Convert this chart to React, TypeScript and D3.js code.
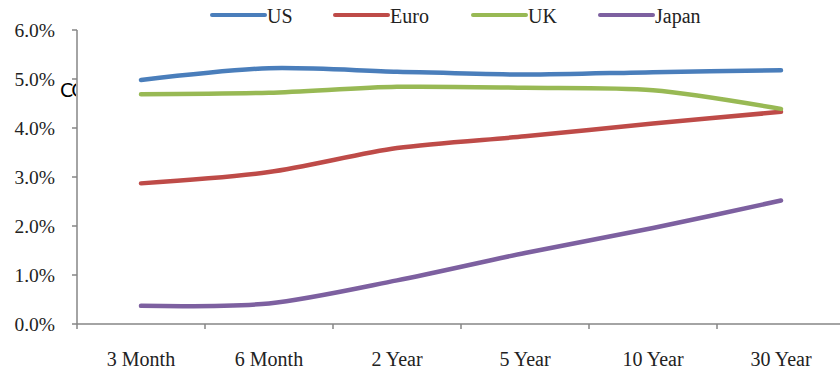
import React from "react";
import * as d3 from "d3";

// Government bond yield curves by maturity (percent)
const maturities = ["3 Month", "6 Month", "2 Year", "5 Year", "10 Year", "30 Year"];
const seriesNames = ["US", "Euro", "UK", "Japan"];
const usYields = [4.98, 5.22, 5.15, 5.09, 5.14, 5.18];
const euroYields = [2.87, 3.1, 3.59, 3.83, 4.09, 4.33];
const ukYields = [4.69, 4.72, 4.84, 4.82, 4.77, 4.39];
const japanYields = [0.37, 0.42, 0.89, 1.45, 1.96, 2.52];
const yTicks = [0, 1, 2, 3, 4, 5, 6];

const seriesValues = [usYields, euroYields, ukYields, japanYields];
const seriesColors = ["#4a7ebb", "#be4b48", "#98b954", "#7d60a0"];

const W = 840;
const H = 370;
const left = 77;
const top = 30;
const bottom = 324;
const right = 845;

const serif = "'Liberation Serif', 'Times New Roman', serif";

export default function App() {
  const x = d3.scaleBand<string>().domain(maturities).range([left, right]);
  const y = d3.scaleLinear().domain([0, 6]).range([bottom, top]);
  const cx = (m: string) => (x(m) as number) + x.bandwidth() / 2;

  const line = d3
    .line<number>()
    .x((_, i) => cx(maturities[i]))
    .y((v) => y(v))
    .curve(d3.curveCardinal.tension(0.15));

  const boundaries = d3.range(maturities.length + 1).map((i) => left + i * x.bandwidth());
  const axisColor = "#868686";

  const legendX = [212, 335, 473, 600];

  return (
    <svg
      width={W}
      height={H}
      style={{ position: "absolute", left: 0, top: 0, background: "#fff" }}
      fontFamily={serif}
    >
      <defs>
        <clipPath id="leftOfAxis">
          <rect x={0} y={0} width={76} height={H} />
        </clipPath>
      </defs>

      {/* stray title text partially hidden behind the plot */}
      <text
        x={60}
        y={97}
        fontFamily="'DejaVu Sans', sans-serif"
        fontSize={19}
        letterSpacing={-2}
        fill="#000"
        clipPath="url(#leftOfAxis)"
      >
        CO
      </text>

      {/* y axis */}
      <line x1={left} x2={left} y1={top} y2={bottom} stroke={axisColor} strokeWidth={1.5} />
      {yTicks.map((t) => (
        <g key={t}>
          <line x1={left - 5} x2={left} y1={y(t)} y2={y(t)} stroke={axisColor} strokeWidth={1.5} />
          <text x={55} y={y(t) + 6.5} textAnchor="end" fontSize={19.5} fill="#222">
            {d3.format(".1f")(t) + "%"}
          </text>
        </g>
      ))}

      {/* x axis */}
      <line x1={left} x2={right} y1={bottom} y2={bottom} stroke={axisColor} strokeWidth={1.5} />
      {boundaries.map((bx, i) => (
        <line key={i} x1={bx} x2={bx} y1={bottom} y2={bottom + 5} stroke={axisColor} strokeWidth={1.5} />
      ))}
      {maturities.map((m) => (
        <text key={m} x={cx(m)} y={366} textAnchor="middle" fontSize={20} fill="#222">
          {m}
        </text>
      ))}

      {/* yield curves */}
      {seriesValues.map((vals, i) => (
        <path
          key={seriesNames[i]}
          d={line(vals) as string}
          fill="none"
          stroke={seriesColors[i]}
          strokeWidth={4.5}
          strokeLinecap="round"
          strokeLinejoin="round"
        />
      ))}

      {/* legend */}
      {seriesNames.map((name, i) => (
        <g key={name}>
          <line
            x1={legendX[i]}
            x2={legendX[i] + 53}
            y1={15}
            y2={15}
            stroke={seriesColors[i]}
            strokeWidth={4}
            strokeLinecap="round"
          />
          <text x={legendX[i] + 55} y={22.5} fontSize={20} fill="#222">
            {name}
          </text>
        </g>
      ))}
    </svg>
  );
}
